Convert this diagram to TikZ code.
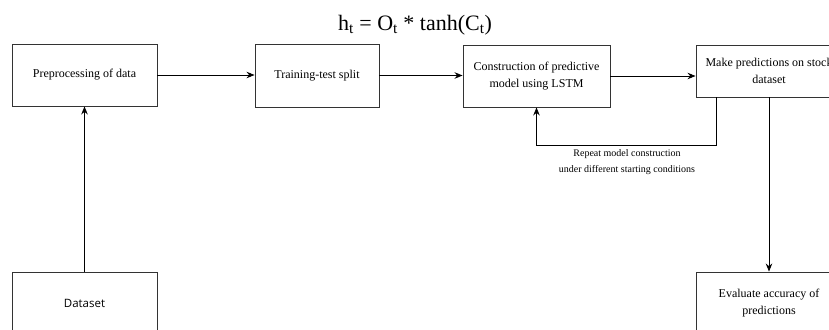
\documentclass[tikz,border=0pt]{standalone}
\usepackage{fontspec}
\setmainfont{Liberation Serif}
\newfontfamily\dsfont{Open Sans}
\usetikzlibrary{arrows.meta,positioning}

\begin{document}
\begin{tikzpicture}[x=1pt,y=-1pt,>={Stealth[length=8pt,width=6.5pt]},
  stepbox/.style={draw=black!80,line width=0.9pt,align=center,inner sep=0pt,
    font=\fontsize{12}{17}\selectfont},
  flow/.style={->,line width=0.9pt}]
  \useasboundingbox (0,0) rectangle (829,329);
  \clip (0,0) rectangle (829,329);
  % top row
  \node[stepbox,minimum width=145pt,minimum height=62pt] (prep) at (84.5,75) {Preprocessing of data};
  \node[stepbox,minimum width=124pt,minimum height=63pt] (split) at (317,75.5) {Training-test split};
  \node[stepbox,minimum width=147pt,minimum height=62pt] (lstm) at (536.5,76) {Construction of predictive\\model using LSTM};
  \node[stepbox,minimum width=146pt,minimum height=52pt] (pred) at (769,71) {Make predictions on stock\\dataset};
  % bottom row
  \node[stepbox,minimum width=145pt,minimum height=62pt,font=\dsfont\fontsize{11.5}{13}\selectfont] (data) at (84.5,303) {Dataset};
  \node[stepbox,minimum width=146pt,minimum height=62pt] (eval) at (769,303) {Evaluate accuracy of\\predictions};
  \node[font=\fontsize{22}{26}\selectfont] (eqn) at (415,25) {h\textsubscript{t} = O\textsubscript{t} * tanh(C\textsubscript{t})};
  % connectors
  \draw[flow] (data.north) -- (prep.south);
  \draw[flow] (prep.east) -- (prep.east -| split.west);
  \draw[flow] (split.east) -- (split.east -| lstm.west);
  \draw[flow] (lstm.east) -- (lstm.east -| pred.west);
  \draw[flow] (pred.south) -- (eval.north);
  \draw[flow] ([xshift=21pt]pred.south west) -- ++(0,48) coordinate (back) -| (lstm.south);
  \node[align=center,font=\fontsize{10}{16}\selectfont] (rep) at (627,162) {Repeat model construction\\under different starting conditions};
\end{tikzpicture}
\end{document}
